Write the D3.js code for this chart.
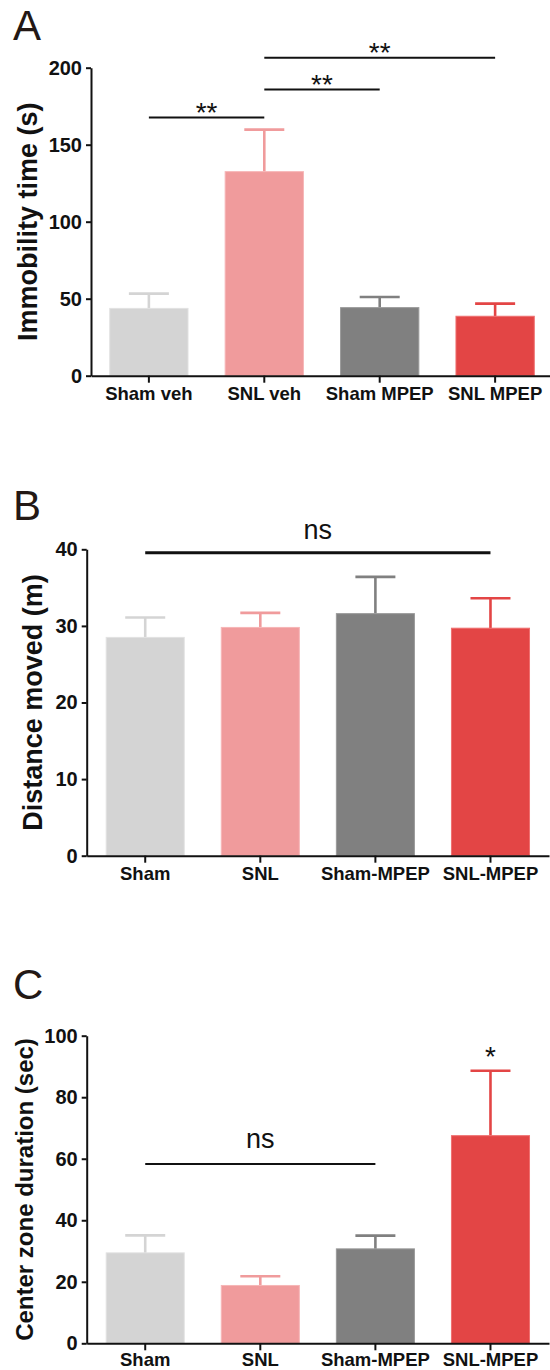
<!DOCTYPE html>
<html>
<head>
<meta charset="utf-8">
<script src="https://cdn.jsdelivr.net/npm/d3@7"></script>
<style>
  body { margin: 0; background: #fff; }
  svg { display: block; font-family: "Liberation Sans", Arial, sans-serif; }
</style>
</head>
<body>
<script>
// panel A - forced swim
const groupsA = ['Sham veh', 'SNL veh', 'Sham MPEP', 'SNL MPEP'];
const meanA = [43.7, 132.5, 44.2, 38.6];
const semA = [9.6, 27.3, 6.9, 8.2];
const ticksA = [0, 50, 100, 150, 200];
const sigA = [
  { from: 'Sham veh', to: 'SNL veh', y: 167.6, text: '**' },
  { from: 'SNL veh', to: 'Sham MPEP', y: 185.8, text: '**' },
  { from: 'SNL veh', to: 'SNL MPEP', y: 206.4, text: '**' }
];

// panel B - distance
const groupsB = ['Sham', 'SNL', 'Sham-MPEP', 'SNL-MPEP'];
const meanB = [28.5, 29.8, 31.6, 29.7];
const semB = [2.6, 1.9, 4.8, 3.9];
const ticksB = [0, 10, 20, 30, 40];
const sigB = [{ from: 'Sham', to: 'SNL-MPEP', y: 39.55, text: 'ns' }];

// panel C - center zone
const groupsC = ['Sham', 'SNL', 'Sham-MPEP', 'SNL-MPEP'];
const meanC = [29.4, 18.8, 30.7, 67.5];
const semC = [5.7, 3.0, 4.3, 21.1];
const ticksC = [0, 20, 40, 60, 80, 100];
const sigC = [{ from: 'Sham', to: 'Sham-MPEP', y: 58.3, text: 'ns' }];
const starC = [{ group: 'SNL-MPEP', y: 95.3, text: '*' }];

const barColors = ['#d4d4d4', '#f09b9c', '#808080', '#e34545'];
const edgeColors = ['#e2e2e2', '#f6b6b7', '#9a9a9a', '#ef6f6f'];
const ink = '#111';

const svg = d3.select('body').append('svg')
  .attr('width', 550)
  .attr('height', 1370);

const panels = [
  { letter: 'A', letterY: 40, groups: groupsA, means: meanA, sems: semA, ticks: ticksA, sig: sigA, stars: [],
    title: 'Immobility time (s)', titleX: 37, titleSize: 27,
    left: 91, right: 553, bottom: 375.7, top: 67.7, padIn: 0.313, padOut: 0.158,
    sigWidth: 2, sigSize: 28, sigGap: -4.5, labelPad: 4 },
  { letter: 'B', letterY: 520, groups: groupsB, means: meanB, sems: semB, ticks: ticksB, sig: sigB, stars: [],
    title: 'Distance moved (m)', titleX: 42, titleSize: 27,
    left: 86.7, right: 549, bottom: 855.7, top: 549.3, padIn: 0.313, padOut: 0.165,
    sigWidth: 3, sigSize: 27, sigGap: 13.3, labelPad: 4 },
  { letter: 'C', letterY: 999, groups: groupsC, means: meanC, sems: semC, ticks: ticksC, sig: sigC, stars: starC,
    title: 'Center zone duration (sec)', titleX: 33, titleSize: 24,
    left: 86.7, right: 549, bottom: 1343.3, top: 1035.7, padIn: 0.313, padOut: 0.165,
    sigWidth: 2, sigSize: 27, sigGap: 15.7, labelPad: 2.5 }
];

const drawPanel = p => {
  const x = d3.scaleBand()
    .domain(p.groups)
    .range([p.left, p.right])
    .paddingInner(p.padIn)
    .paddingOuter(p.padOut);
  const y = d3.scaleLinear()
    .domain([0, d3.max(p.ticks)])
    .range([p.bottom, p.top]);
  const mid = d => x(d) + x.bandwidth() / 2;

  const g = svg.append('g');

  // error bars (upper only), drawn first so the bar covers the stem base
  const err = g.append('g').selectAll('g').data(p.groups).join('g')
    .attr('stroke', (d, i) => barColors[i])
    .attr('stroke-width', 2.6);
  err.append('line')
    .attr('x1', d => mid(d)).attr('x2', d => mid(d))
    .attr('y1', (d, i) => y(p.means[i]))
    .attr('y2', (d, i) => y(p.means[i] + p.sems[i]));
  err.append('line')
    .attr('x1', d => mid(d) - 20).attr('x2', d => mid(d) + 20)
    .attr('y1', (d, i) => y(p.means[i] + p.sems[i]))
    .attr('y2', (d, i) => y(p.means[i] + p.sems[i]));

  g.append('g').selectAll('rect').data(p.groups).join('rect')
    .attr('x', d => x(d) + 0.5)
    .attr('y', (d, i) => y(p.means[i]))
    .attr('width', x.bandwidth() - 1)
    .attr('height', (d, i) => y(0) - y(p.means[i]))
    .attr('fill', (d, i) => barColors[i])
    .attr('stroke', (d, i) => edgeColors[i])
    .attr('stroke-width', 1);

  // axes
  const yAxis = g.append('g')
    .attr('transform', `translate(${p.left},0)`)
    .call(d3.axisLeft(y).tickValues(p.ticks).tickSize(5).tickSizeOuter(0).tickPadding(4).tickFormat(d3.format('d')));
  const xAxis = g.append('g')
    .attr('transform', `translate(0,${p.bottom})`)
    .call(d3.axisBottom(x).tickSize(7).tickSizeOuter(0).tickPadding(p.labelPad));
  [yAxis, xAxis].forEach(a => {
    a.select('.domain').attr('stroke', ink).attr('stroke-width', 2);
    a.selectAll('.tick line').attr('stroke', ink).attr('stroke-width', 2);
    a.selectAll('text').attr('fill', ink).attr('font-weight', 'bold')
      .attr('font-family', '"Liberation Sans", Arial, sans-serif');
  });
  yAxis.selectAll('text').attr('font-size', 20);
  xAxis.selectAll('text').attr('font-size', 18.5);

  // y title
  g.append('text')
    .attr('transform', `translate(${p.titleX},${(p.top + p.bottom) / 2}) rotate(-90)`)
    .attr('text-anchor', 'middle')
    .attr('font-weight', 'bold')
    .attr('font-size', p.titleSize)
    .attr('fill', ink)
    .text(p.title);

  // significance brackets
  p.sig.forEach(s => {
    g.append('line')
      .attr('x1', mid(s.from)).attr('x2', mid(s.to))
      .attr('y1', y(s.y)).attr('y2', y(s.y))
      .attr('stroke', ink)
      .attr('stroke-width', p.sigWidth);
    g.append('text')
      .attr('x', (mid(s.from) + mid(s.to)) / 2)
      .attr('y', y(s.y) - p.sigGap)
      .attr('text-anchor', 'middle')
      .attr('font-size', p.sigSize)
      .attr('fill', ink)
      .text(s.text);
  });

  p.stars.forEach(s => {
    g.append('text')
      .attr('x', mid(s.group))
      .attr('y', y(s.y) + 16)
      .attr('text-anchor', 'middle')
      .attr('font-size', 28)
      .attr('fill', ink)
      .text(s.text);
  });

  // panel letter
  svg.append('text')
    .attr('x', 13)
    .attr('y', p.letterY)
    .attr('font-size', 42)
    .attr('fill', '#231815')
    .text(p.letter);
};

panels.forEach(drawPanel);
</script>
</body>
</html>
